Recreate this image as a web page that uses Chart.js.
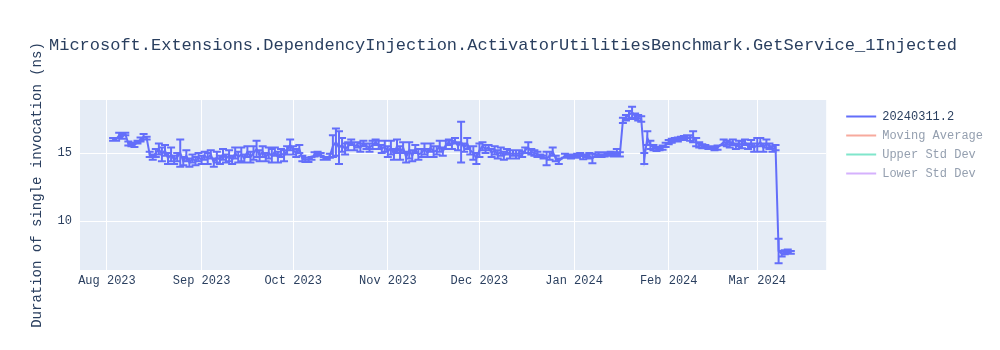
<!DOCTYPE html>
<html>
<head>
<meta charset="utf-8">
<script src="https://cdn.jsdelivr.net/npm/chart.js@4"></script>
<style>
  html, body { margin: 0; padding: 0; background: #fff; }
  #wrap { width: 1000px; height: 350px; }
</style>
</head>
<body>
<div id="wrap"><canvas id="chart" width="1000" height="350"></canvas></div>
<script>
const chartTitle = 'Microsoft.Extensions.DependencyInjection.ActivatorUtilitiesBenchmark.GetService_1Injected';
const yTitle = 'Duration of single invocation (ns)';
const seriesNames = ['20240311.2', 'Moving Average', 'Upper Std Dev', 'Lower Std Dev'];

const dates = [
  '2023-08-03','2023-08-04','2023-08-05','2023-08-06','2023-08-07','2023-08-08','2023-08-09','2023-08-10',
  '2023-08-11','2023-08-12','2023-08-13','2023-08-14','2023-08-15','2023-08-16','2023-08-17','2023-08-18',
  '2023-08-19','2023-08-20','2023-08-21','2023-08-22','2023-08-23','2023-08-24','2023-08-25','2023-08-26',
  '2023-08-27','2023-08-28','2023-08-29','2023-08-30','2023-08-31',
  '2023-09-01','2023-09-02','2023-09-03','2023-09-04','2023-09-05','2023-09-06','2023-09-07','2023-09-08',
  '2023-09-09','2023-09-10','2023-09-11','2023-09-12','2023-09-13','2023-09-14','2023-09-15','2023-09-16',
  '2023-09-17','2023-09-18','2023-09-19','2023-09-20','2023-09-21','2023-09-22','2023-09-23','2023-09-24',
  '2023-09-25','2023-09-26','2023-09-27','2023-09-28','2023-09-29','2023-09-30',
  '2023-10-01','2023-10-02','2023-10-03','2023-10-04','2023-10-05','2023-10-06','2023-10-07','2023-10-08',
  '2023-10-09','2023-10-10','2023-10-11','2023-10-12','2023-10-13','2023-10-14','2023-10-15','2023-10-16',
  '2023-10-17','2023-10-18','2023-10-19','2023-10-20','2023-10-21','2023-10-22','2023-10-23','2023-10-24',
  '2023-10-25','2023-10-26','2023-10-27','2023-10-28','2023-10-29','2023-10-30','2023-10-31',
  '2023-11-01','2023-11-02','2023-11-03','2023-11-04','2023-11-05','2023-11-06','2023-11-07','2023-11-08',
  '2023-11-09','2023-11-10','2023-11-11','2023-11-12','2023-11-13','2023-11-14','2023-11-15','2023-11-16',
  '2023-11-17','2023-11-18','2023-11-19','2023-11-20','2023-11-21','2023-11-22','2023-11-23','2023-11-24',
  '2023-11-25','2023-11-26','2023-11-27','2023-11-28','2023-11-29','2023-11-30',
  '2023-12-01','2023-12-02','2023-12-03','2023-12-04','2023-12-05','2023-12-06','2023-12-07','2023-12-08',
  '2023-12-09','2023-12-10','2023-12-11','2023-12-12','2023-12-13','2023-12-14','2023-12-15','2023-12-16',
  '2023-12-17','2023-12-18','2023-12-19','2023-12-20','2023-12-21','2023-12-22','2023-12-23','2023-12-24',
  '2023-12-25','2023-12-26','2023-12-27','2023-12-29','2023-12-30','2023-12-31',
  '2024-01-01','2024-01-02','2024-01-03','2024-01-04','2024-01-05','2024-01-06','2024-01-07','2024-01-08',
  '2024-01-09','2024-01-10','2024-01-11','2024-01-12','2024-01-13','2024-01-14','2024-01-15','2024-01-16',
  '2024-01-17','2024-01-18','2024-01-19','2024-01-20','2024-01-21','2024-01-22','2024-01-23','2024-01-24',
  '2024-01-25','2024-01-26','2024-01-27','2024-01-28','2024-01-29','2024-01-30','2024-01-31',
  '2024-02-01','2024-02-02','2024-02-03','2024-02-04','2024-02-05','2024-02-06','2024-02-07','2024-02-08',
  '2024-02-09','2024-02-10','2024-02-11','2024-02-12','2024-02-13','2024-02-14','2024-02-15','2024-02-16',
  '2024-02-17','2024-02-19','2024-02-20','2024-02-21','2024-02-22','2024-02-23','2024-02-24','2024-02-25',
  '2024-02-26','2024-02-27','2024-02-28','2024-02-29',
  '2024-03-01','2024-03-02','2024-03-03','2024-03-04','2024-03-05','2024-03-06','2024-03-07','2024-03-08',
  '2024-03-09','2024-03-10','2024-03-11','2024-03-12'
];

const values = [
  16.0,16.0,16.3,16.2,16.4,15.7,15.6,15.6,
  15.8,16.0,16.2,16.1,14.9,14.7,15.0,15.3,
  14.9,15.2,14.6,14.9,14.5,14.7,15.0,14.4,
  14.8,14.3,14.6,14.4,14.7,
  14.5,14.8,14.6,14.9,14.3,14.7,14.5,14.9,
  14.6,14.8,14.5,15.0,14.7,14.9,14.6,15.1,
  14.7,15.0,15.3,14.8,15.1,14.7,15.0,14.8,
  15.1,14.7,15.0,14.8,15.2,15.6,
  15.2,15.0,15.3,14.6,14.5,14.5,14.6,14.9,
  15.0,14.9,14.6,14.6,14.8,15.5,15.8,15.4,
  15.6,15.3,15.5,15.8,15.5,15.6,15.4,15.7,
  15.5,15.4,15.6,15.8,15.6,15.3,15.5,
  15.1,15.4,14.9,15.5,15.0,15.4,14.7,15.2,
  14.8,15.3,14.9,15.0,15.3,15.0,15.4,15.1,
  15.2,15.5,15.1,15.6,15.8,15.6,15.9,15.5,
  15.8,15.4,15.7,15.2,15.0,14.6,
  15.2,15.5,15.3,15.4,15.0,15.2,14.9,15.1,
  14.8,15.1,14.9,15.0,14.9,15.0,14.9,15.2,
  15.4,15.1,15.0,14.9,14.8,14.7,14.6,14.8,
  15.1,14.6,14.4,14.8,14.8,14.7,
  14.8,14.8,14.9,14.7,14.8,14.8,14.6,14.8,
  14.9,14.8,14.9,14.9,15.0,14.9,15.1,14.9,
  17.4,17.6,17.8,18.0,17.7,17.6,17.5,14.6,
  16.1,15.6,15.4,15.3,15.3,15.4,15.6,
  15.8,15.9,16.0,16.0,16.1,16.1,16.2,16.1,
  16.2,15.8,15.6,15.5,15.5,15.4,15.4,15.3,
  15.4,15.8,15.7,15.6,15.8,15.5,15.7,15.6,
  15.8,15.5,15.7,15.4,
  15.6,15.8,15.4,15.7,15.5,15.3,15.4,7.8,
  7.6,7.7,7.8,7.7
];

const errors = [
  0.1,0.1,0.2,0.15,0.1,0.15,0.1,0.15,
  0.1,0.15,0.2,0.1,0.2,0.2,0.3,0.4,
  0.5,0.4,0.4,0.5,0.3,0.3,1.0,0.3,
  0.4,0.3,0.3,0.3,0.3,
  0.3,0.3,0.4,0.3,0.3,0.4,0.3,0.4,
  0.3,0.4,0.3,0.4,0.4,0.5,0.3,0.4,
  0.4,0.5,0.6,0.4,0.4,0.3,0.4,0.5,
  0.3,0.4,0.3,0.4,0.3,0.4,
  0.3,0.3,0.3,0.2,0.15,0.15,0.1,0.15,
  0.1,0.1,0.1,0.1,0.15,0.8,1.0,1.2,
  0.5,0.4,0.3,0.2,0.3,0.2,0.3,0.2,
  0.2,0.3,0.3,0.2,0.3,0.3,0.4,
  0.4,0.5,0.4,0.5,0.5,0.4,0.4,0.6,
  0.4,0.3,0.4,0.3,0.4,0.3,0.3,0.4,
  0.3,0.4,0.3,0.3,0.2,0.3,0.2,0.3,
  1.5,0.3,0.4,0.3,0.5,0.4,
  0.5,0.3,0.3,0.2,0.3,0.3,0.3,0.3,
  0.3,0.2,0.3,0.2,0.3,0.2,0.2,0.2,
  0.4,0.2,0.2,0.2,0.1,0.1,0.5,0.3,
  0.3,0.2,0.2,0.15,0.1,0.1,
  0.1,0.15,0.1,0.15,0.1,0.2,0.35,0.1,
  0.15,0.1,0.15,0.1,0.1,0.15,0.2,0.15,
  0.2,0.2,0.3,0.4,0.2,0.2,0.2,0.4,
  0.5,0.3,0.2,0.15,0.1,0.15,0.15,
  0.15,0.15,0.1,0.15,0.1,0.15,0.1,0.2,
  0.4,0.3,0.2,0.15,0.1,0.1,0.1,0.1,
  0.15,0.2,0.2,0.2,0.2,0.2,0.2,0.25,
  0.2,0.2,0.25,0.3,
  0.5,0.3,0.3,0.3,0.2,0.2,0.2,0.9,
  0.2,0.15,0.1,0.1
];

const monthTicks = ['2023-08-01','2023-09-01','2023-10-01','2023-11-01','2023-12-01','2024-01-01','2024-02-01','2024-03-01'];
const tickLabels = ['Aug 2023','Sep 2023','Oct 2023','Nov 2023','Dec 2023','Jan 2024','Feb 2024','Mar 2024'];
const yTicks = [10, 15];

const lineColors = ['#636efa', '#EF553B', '#00cc96', '#ab63fa'];
const fadedColors = ['#636efa', '#f7aa9d', '#80e6cb', '#d5b1fd'];
const textColor = '#2a3f5f';
const fontFamily = '"Courier New", "Liberation Mono", monospace';

const toTime = s => Date.parse(s + 'T00:00:00Z');
const points = dates.map((d, i) => ({ x: toTime(d), y: values[i] }));

// plot background
const bgPlugin = {
  id: 'plotBg',
  beforeDraw(chart) {
    const { ctx, chartArea: a } = chart;
    ctx.save();
    ctx.fillStyle = '#e5ecf6';
    ctx.fillRect(a.left, a.top, a.right - a.left, a.bottom - a.top);
    ctx.restore();
  }
};

// error bars for the main series
const errorBarPlugin = {
  id: 'errorBars',
  afterDatasetsDraw(chart) {
    const meta = chart.getDatasetMeta(0);
    if (meta.hidden) return;
    const { ctx, chartArea: a } = chart;
    const xs = chart.scales.x, ys = chart.scales.y;
    ctx.save();
    ctx.beginPath();
    ctx.rect(a.left, a.top, a.right - a.left, a.bottom - a.top);
    ctx.clip();
    ctx.strokeStyle = lineColors[0];
    ctx.lineWidth = 2;
    ctx.beginPath();
    points.forEach((p, i) => {
      const px = xs.getPixelForValue(p.x);
      const top = ys.getPixelForValue(p.y + errors[i]);
      const bot = ys.getPixelForValue(p.y - errors[i]);
      ctx.moveTo(px, top); ctx.lineTo(px, bot);
      ctx.moveTo(px - 4, top); ctx.lineTo(px + 4, top);
      ctx.moveTo(px - 4, bot); ctx.lineTo(px + 4, bot);
    });
    ctx.stroke();
    ctx.restore();
  }
};

// plot title, left aligned like the original
const titlePlugin = {
  id: 'leftTitle',
  afterDraw(chart) {
    const ctx = chart.ctx;
    ctx.save();
    ctx.font = '17px ' + fontFamily;
    ctx.fillStyle = textColor;
    ctx.textBaseline = 'middle';
    ctx.fillText(chartTitle, 49, 45);
    ctx.restore();
  }
};

new Chart(document.getElementById('chart'), {
  type: 'line',
  data: {
    datasets: [
      { label: seriesNames[0], data: points, borderColor: lineColors[0], backgroundColor: lineColors[0],
        borderWidth: 2, pointRadius: 0, tension: 0, fill: false },
      { label: seriesNames[1], data: [], borderColor: lineColors[1], hidden: true },
      { label: seriesNames[2], data: [], borderColor: lineColors[2], hidden: true },
      { label: seriesNames[3], data: [], borderColor: lineColors[3], hidden: true }
    ]
  },
  options: {
    responsive: false,
    animation: false,
    layout: { padding: { top: 100, right: 7, bottom: 0, left: 0 } },
    plugins: {
      title: { display: false },
      tooltip: { enabled: false },
      legend: {
        position: 'right',
        align: 'start',
        onClick: null,
        title: { display: true, text: '', font: { size: 3 }, padding: 0 },
        labels: {
          boxWidth: 30,
          boxHeight: 2,
          padding: 7,
          font: { family: fontFamily, size: 12 },
          generateLabels: chart => chart.data.datasets.map((ds, i) => ({
            text: ds.label,
            fillStyle: fadedColors[i],
            strokeStyle: fadedColors[i],
            lineWidth: 0,
            fontColor: ds.hidden ? '#949faf' : textColor,
            hidden: false,
            datasetIndex: i
          }))
        }
      }
    },
    scales: {
      x: {
        type: 'linear',
        min: Date.UTC(2023, 6, 23, 4),
        max: Date.UTC(2024, 2, 23, 14),
        afterBuildTicks: s => { s.ticks = monthTicks.map(m => ({ value: toTime(m) })); },
        afterFit: s => { s.height = 80; },
        grid: { color: '#ffffff', lineWidth: 1, drawTicks: false },
        border: { display: false },
        ticks: {
          autoSkip: false,
          maxRotation: 0,
          padding: 4,
          color: textColor,
          font: { family: fontFamily, size: 12 },
          callback: (v, i) => tickLabels[i]
        }
      },
      y: {
        min: 6.4,
        max: 18.9,
        afterBuildTicks: s => { s.ticks = yTicks.map(v => ({ value: v })); },
        afterFit: s => { s.width = 80; },
        grid: { color: '#ffffff', lineWidth: 1, drawTicks: false },
        border: { display: false },
        ticks: {
          padding: 8,
          color: textColor,
          font: { family: fontFamily, size: 12 },
          callback: v => String(v)
        },
        title: {
          display: true,
          text: yTitle,
          color: textColor,
          font: { family: fontFamily, size: 14 },
          padding: { top: 29, bottom: 0 }
        }
      },
      gap: {
        type: 'linear',
        position: 'right',
        display: true,
        afterFit: s => { s.width = 13; },
        grid: { display: false },
        border: { display: false },
        ticks: { display: false }
      }
    }
  },
  plugins: [bgPlugin, errorBarPlugin, titlePlugin]
});
</script>
</body>
</html>
